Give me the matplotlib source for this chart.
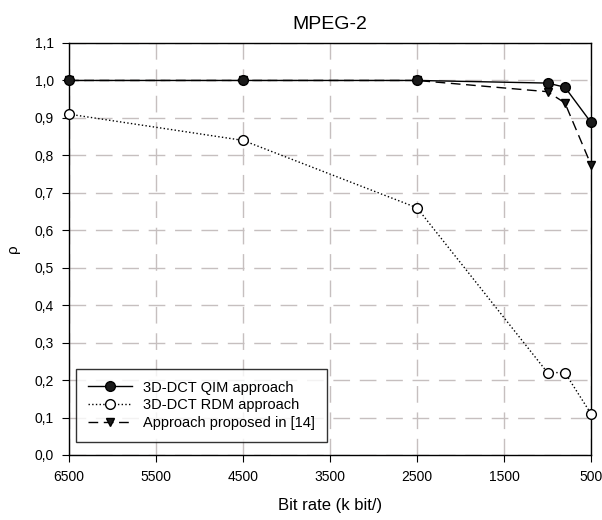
import matplotlib
matplotlib.use("Agg")
import matplotlib.pyplot as plt
from matplotlib.ticker import FuncFormatter

plt.rcParams['font.family'] = ['Liberation Sans', 'DejaVu Sans']

# data
bitrate = [6500, 4500, 2500, 1000, 800, 500]
qim = [1.0, 1.0, 1.0, 0.993, 0.982, 0.888]
rdm = [0.91, 0.84, 0.66, 0.22, 0.22, 0.11]
proposed = [1.0, 1.0, 1.0, 0.97, 0.94, 0.775]
xticks = [6500, 5500, 4500, 3500, 2500, 1500, 500]
yticks = [0.0, 0.1, 0.2, 0.3, 0.4, 0.5, 0.6, 0.7, 0.8, 0.9, 1.0, 1.1]

fig = plt.figure(figsize=(6.02, 5.2), dpi=100)
ax = fig.add_axes([69/602, 65/520, 522/602, 412/520])

ax.plot(bitrate, qim, '-', color='black', lw=1.0, marker='o', ms=7,
        mfc='#1a1a1a', mec='black', label='3D-DCT QIM approach', zorder=5,
        clip_on=False)
ax.plot(bitrate, rdm, ':', color='black', lw=1.0, marker='o', ms=7,
        mfc='white', mec='black', label='3D-DCT RDM approach', zorder=4,
        clip_on=False)
ax.plot(bitrate, proposed, '--', color='black', lw=1.0, marker='v', ms=6,
        mfc='#1a1a1a', mec='black', dashes=(7, 4),
        label='Approach proposed in [14]', zorder=4, clip_on=False)

ax.set_xlim(6500, 500)
ax.set_ylim(0, 1.1)
ax.set_xticks(xticks)
ax.set_yticks(yticks)
ax.yaxis.set_major_formatter(FuncFormatter(lambda v, p: ('%.1f' % v).replace('.', ',')))
ax.tick_params(direction='out', length=5, width=0.8, labelsize=10, pad=6)
ax.tick_params(axis='x', pad=6)

ax.grid(True, color='#c6bfbf', lw=1.0, linestyle=(0, (12, 7)), zorder=0)
ax.set_axisbelow(True)
for s in ax.spines.values():
    s.set_linewidth(1.0)
    s.set_color('black')

ax.set_title('MPEG-2', fontsize=14, pad=10)
ax.set_xlabel('Bit rate (k bit/)', fontsize=12, labelpad=10)
ax.set_ylabel('ρ', fontsize=11, labelpad=10)

leg = ax.legend(loc='lower left', bbox_to_anchor=(0.0, 0.015), fontsize=10.5,
                frameon=True, fancybox=False, edgecolor='black',
                handlelength=3.0, borderpad=0.8, labelspacing=0.25)
leg.get_frame().set_linewidth(1.0)

fig.savefig('out.png', dpi=100)
